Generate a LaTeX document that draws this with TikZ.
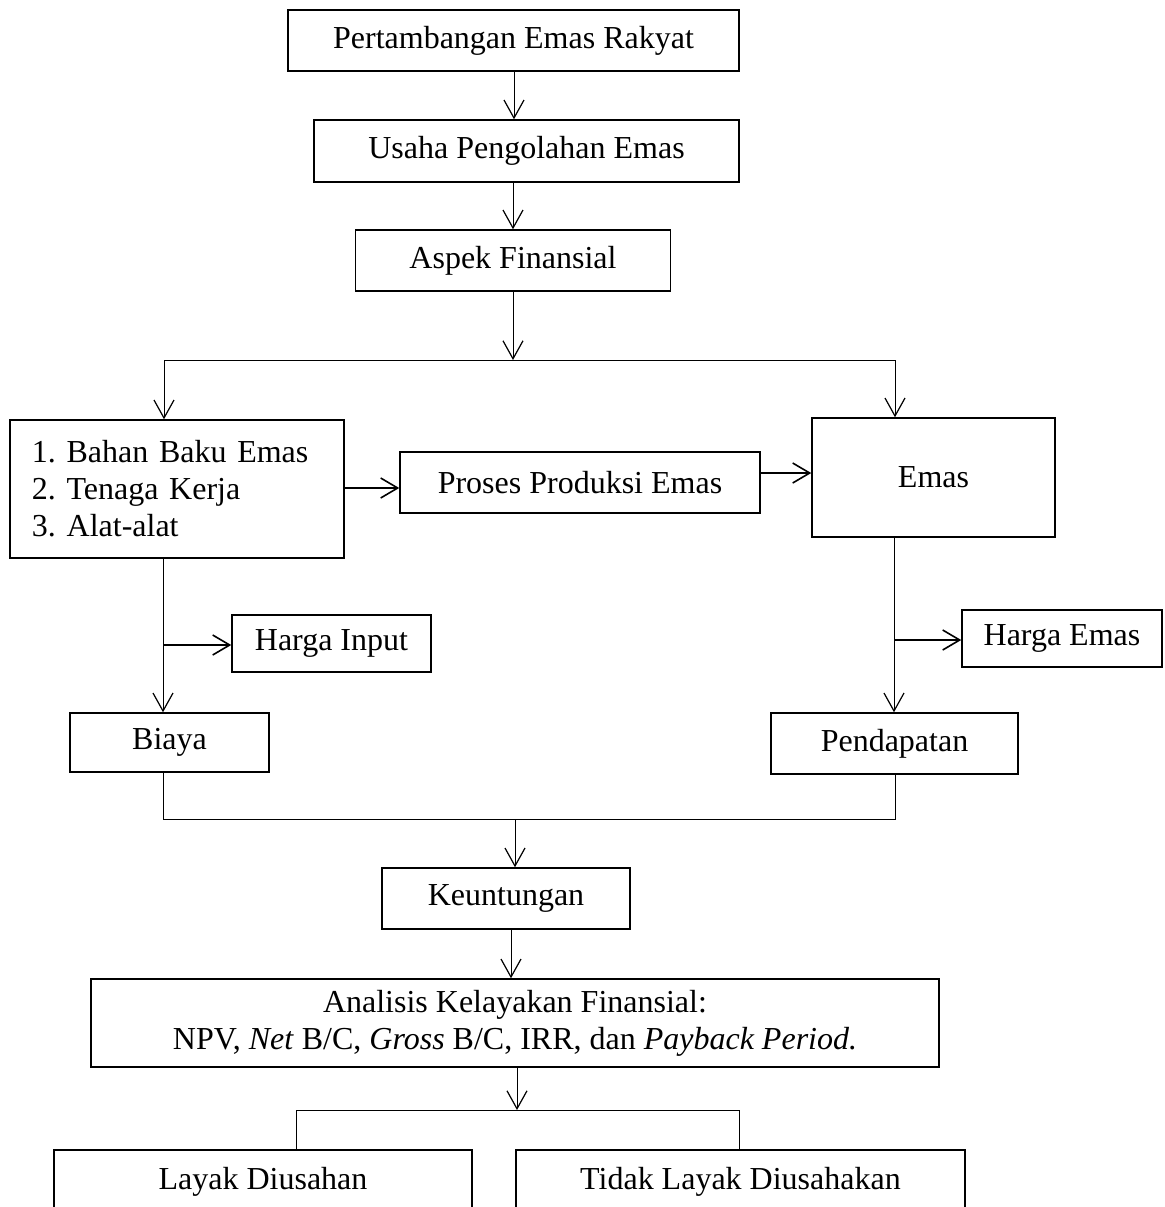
\documentclass[tikz,border=0pt]{standalone}
\usepackage{fontspec}
\setmainfont{Liberation Serif}
\usetikzlibrary{arrows.meta}
\begin{document}
\begin{tikzpicture}[x=0.5pt,y=-0.5pt,
  box/.style={draw, line width=0.75pt, inner sep=0pt, font=\fontsize{16}{18.5}\selectfont\frenchspacing, align=center},
  arr/.style={line width=0.5pt, -{Straight Barb[length=9pt,width=10pt,line width=0.6pt]}},
  harr/.style={line width=1pt, -{Straight Barb[length=8.5pt,width=10pt,line width=0.8pt]}},
  ln/.style={line width=0.5pt}]
\path[use as bounding box, clip] (0,0) rectangle (1165,1207);
\node[box, minimum width=225.5pt, minimum height=30.5pt] (b1) at (513.5,40.5) {Pertambangan Emas Rakyat};
\node[box, minimum width=212.5pt, minimum height=31pt] (b2) at (526.5,151) {Usaha Pengolahan Emas};
\node[box, minimum width=157.5pt, minimum height=30.5pt] (b3) at (513,260.5) {Aspek Finansial};
\node[box, minimum width=167pt, minimum height=69pt, text width=145pt, inner xsep=11pt, align=left] (list) at (177,489) {1. Bahan Baku Emas\\2. Tenaga Kerja\\3. Alat-alat};
\node[box, minimum width=180pt, minimum height=30.5pt] (proc) at (580,482.5) {Proses Produksi Emas};
\node[box, minimum width=121.5pt, minimum height=59.5pt] (emas) at (933.5,477.5) {Emas};
\node[box, minimum width=99.5pt, minimum height=28.5pt] (hin) at (331.5,643.5) {Harga Input};
\node[box, minimum width=100pt, minimum height=28.5pt] (hem) at (1062,638.5) {Harga Emas};
\node[box, minimum width=99.5pt, minimum height=29.5pt] (biaya) at (169.5,742.5) {Biaya};
\node[box, minimum width=123.5pt, minimum height=30.5pt] (pend) at (894.5,743.5) {Pendapatan};
\node[box, minimum width=124pt, minimum height=30.5pt] (keu) at (506,898.5) {Keuntungan};
\node[box, minimum width=424pt, minimum height=44pt] (ana) at (515,1023) {Analisis Kelayakan Finansial:\\NPV, \textit{Net} B/C, \textit{Gross} B/C, IRR, dan \textit{Payback Period.}};
\node[box, minimum width=209pt, minimum height=32pt] (layak) at (263,1182) {Layak Diusahan};
\node[box, minimum width=224.5pt, minimum height=32pt] (tidak) at (740.5,1182) {Tidak Layak Diusahakan};
% coordinates
\coordinate (s1) at (513,360);
\coordinate (sl) at (164,360);
\coordinate (sr) at (895,360);
\coordinate (jl) at (163,819);
\coordinate (jr) at (895,819);
\coordinate (jm) at (515,819);
\coordinate (kl) at (296,1110);
\coordinate (kr) at (739,1110);
\coordinate (km) at (517,1110);
\coordinate (xl) at (163,645);
\coordinate (xr) at (894,640);
% top chain
\draw[arr] (b1.south -| 514,0) -- (b2.north -| 514,0);
\draw[arr] (b2.south -| 513,0) -- (b3.north -| 513,0);
\draw[arr] (b3.south -| s1) -- (s1);
\draw[ln] (sl) -- (sr);
\draw[arr] (sl) -- (sl |- list.north);
\draw[arr] (sr) -- (sr |- emas.north);
% middle row
\draw[harr] (list.east |- 0,488) -- (proc.west |- 0,488);
\draw[harr] (proc.east |- 0,473) -- (emas.west |- 0,473);
% left column
\draw[arr] (list.south -| xl) -- (biaya.north -| xl);
\draw[harr] (xl) -- (hin.west |- xl);
% right column
\draw[arr] (emas.south -| xr) -- (pend.north -| xr);
\draw[harr] (xr) -- (hem.west |- xr);
% join
\draw[ln] (biaya.south -| jl) -- (jl) -- (jr) -- (pend.south -| jr);
\draw[arr] (jm) -- (keu.north -| jm);
\draw[arr] (keu.south -| 511,0) -- (ana.north -| 511,0);
\draw[arr] (ana.south -| km) -- (km);
\draw[ln] (layak.north -| kl) -- (kl) -- (kr) -- (tidak.north -| kr);
\end{tikzpicture}
\end{document}
